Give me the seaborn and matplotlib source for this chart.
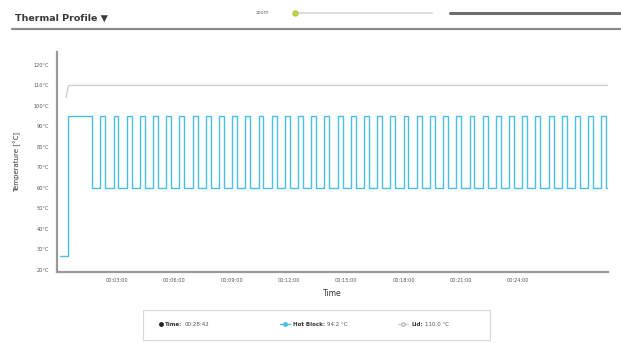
import matplotlib
matplotlib.use("Agg")
import matplotlib.pyplot as plt
from matplotlib.patches import Rectangle
from matplotlib.lines import Line2D
import seaborn as sns
import pandas as pd

# PCR protocol as run on the hot block (temperatures in °C, durations in s)
start_temp = 27.0
start_hold_s = 27.0
denature_temp = 95.0
initial_denature_s = 75.0
anneal_temp = 60.0
anneal_s = 26.0
denature_s = 15.4
repeat_cycles = 39
final_hold_s = 6.0

# Lid heater
lid_times = [20.0, 28.0, 1722.0]
lid_temps = [104.0, 110.0, 110.0]

# Axis ticks
y_ticks = [20, 30, 40, 50, 60, 70, 80, 90, 100, 110, 120]
x_ticks = [180, 360, 540, 720, 900, 1080, 1260, 1440]
x_tick_labels = ["00:03:00", "00:06:00", "00:09:00", "00:12:00",
                 "00:15:00", "00:18:00", "00:21:00", "00:24:00"]

legend_time = "00:28:42"
legend_block = "94.2 °C"
legend_lid = "110.0 °C"

# Step profile of the block: each entry is the start of a hold
block_t = [0.0, start_hold_s]
block_T = [start_temp, denature_temp]
t = start_hold_s + initial_denature_s
for _ in range(repeat_cycles):
    block_t.append(t); block_T.append(anneal_temp); t += anneal_s
    block_t.append(t); block_T.append(denature_temp); t += denature_s
block_t.append(t); block_T.append(anneal_temp); t += final_hold_s
block_t.append(t); block_T.append(anneal_temp)

block = pd.DataFrame({"time": block_t, "temp": block_T})
lid = pd.DataFrame({"time": lid_times, "temp": lid_temps})

sns.set_theme(style="white")
plt.rcParams["font.family"] = ["DejaVu Sans"]

fig = plt.figure(figsize=(6.21, 3.43), dpi=100)
ax = fig.add_axes([57 / 621, 1 - 272 / 343, 551 / 621, 220 / 343])

sns.lineplot(data=lid, x="time", y="temp", ax=ax, color="#cfcfcf",
             linewidth=1.0, estimator=None, sort=False)
sns.lineplot(data=block, x="time", y="temp", ax=ax, color="#4cc0e4",
             linewidth=1.0, estimator=None, sort=False, drawstyle="steps-post")

ax.set_xlim(-8, 1722)
ax.set_ylim(19, 126.3)
ax.set_yticks(y_ticks)
ax.set_yticklabels([f"{v}°C" for v in y_ticks], fontsize=3.6, color="#555")
ax.set_xticks(x_ticks)
ax.set_xticklabels(x_tick_labels, fontsize=3.6, color="#555")
ax.tick_params(axis="y", length=2, width=0.6, color="#999", pad=4)
ax.tick_params(axis="x", length=2, width=0.6, color="#999", pad=2)
ax.set_xlabel("Time", fontsize=5.5, color="#333", labelpad=5)
ax.set_ylabel("Temperature [°C]", fontsize=5, color="#333", labelpad=9)

for side in ("top", "right"):
    ax.spines[side].set_visible(False)
for side in ("left", "bottom"):
    ax.spines[side].set_color("#9a9a9a")
    ax.spines[side].set_linewidth(1.6)

# Header: title with underline, zoom slider and scroll bar
fig.text(15 / 621, 1 - 18 / 343, "Thermal Profile ▼", fontsize=6.8,
         fontweight="bold", color="#3a3a3a", va="center", ha="left")
fig.add_artist(Line2D([12 / 621, 1.0], [1 - 29 / 343] * 2, color="#8a8a8a", lw=1.6))
fig.text(262 / 621, 1 - 13 / 343, "zoom", fontsize=3.5, color="#777",
         va="center", ha="center")
fig.add_artist(Line2D([298 / 621, 432 / 621], [1 - 13 / 343] * 2, color="#dcdcdc", lw=1.5))
fig.add_artist(Line2D([295 / 621], [1 - 13 / 343], marker="o", ms=3.5,
                      color="#c8d64a", mec="#b5c23a"))
fig.add_artist(Line2D([450 / 621, 1.0], [1 - 13 / 343] * 2, color="#6e6e6e", lw=2.2))

# Legend panel
fig.add_artist(Rectangle((143 / 621, 1 - 340 / 343), 347 / 621, 30 / 343,
                         transform=fig.transFigure, facecolor="white",
                         edgecolor="#d8d8d8", lw=0.8))
ly = 1 - 324 / 343
renderer = fig.canvas.get_renderer()


def legend_entry(x_px, key, value):
    label = fig.text(x_px / 621, ly, key, fontsize=4.0, fontweight="bold",
                     color="#333", va="center")
    right = label.get_window_extent(renderer).x1
    fig.text(right / 621 + 2 / 621, ly, value, fontsize=4.0, color="#555", va="center")


fig.add_artist(Line2D([161 / 621], [ly], marker="o", ms=2.5, color="#222"))
legend_entry(165, "Time:", legend_time)

fig.add_artist(Line2D([280 / 621, 290 / 621], [ly] * 2, color="#4cc0e4", lw=1.0))
fig.add_artist(Line2D([285 / 621], [ly], marker="o", ms=2.5, color="#4cc0e4"))
legend_entry(293, "Hot Block:", legend_block)

fig.add_artist(Line2D([398 / 621, 408 / 621], [ly] * 2, color="#cfcfcf", lw=1.0))
fig.add_artist(Line2D([403 / 621], [ly], marker="o", ms=2.5, mfc="white", mec="#bbbbbb"))
legend_entry(411, "Lid:", legend_lid)

fig.savefig("out.png", dpi=100)
